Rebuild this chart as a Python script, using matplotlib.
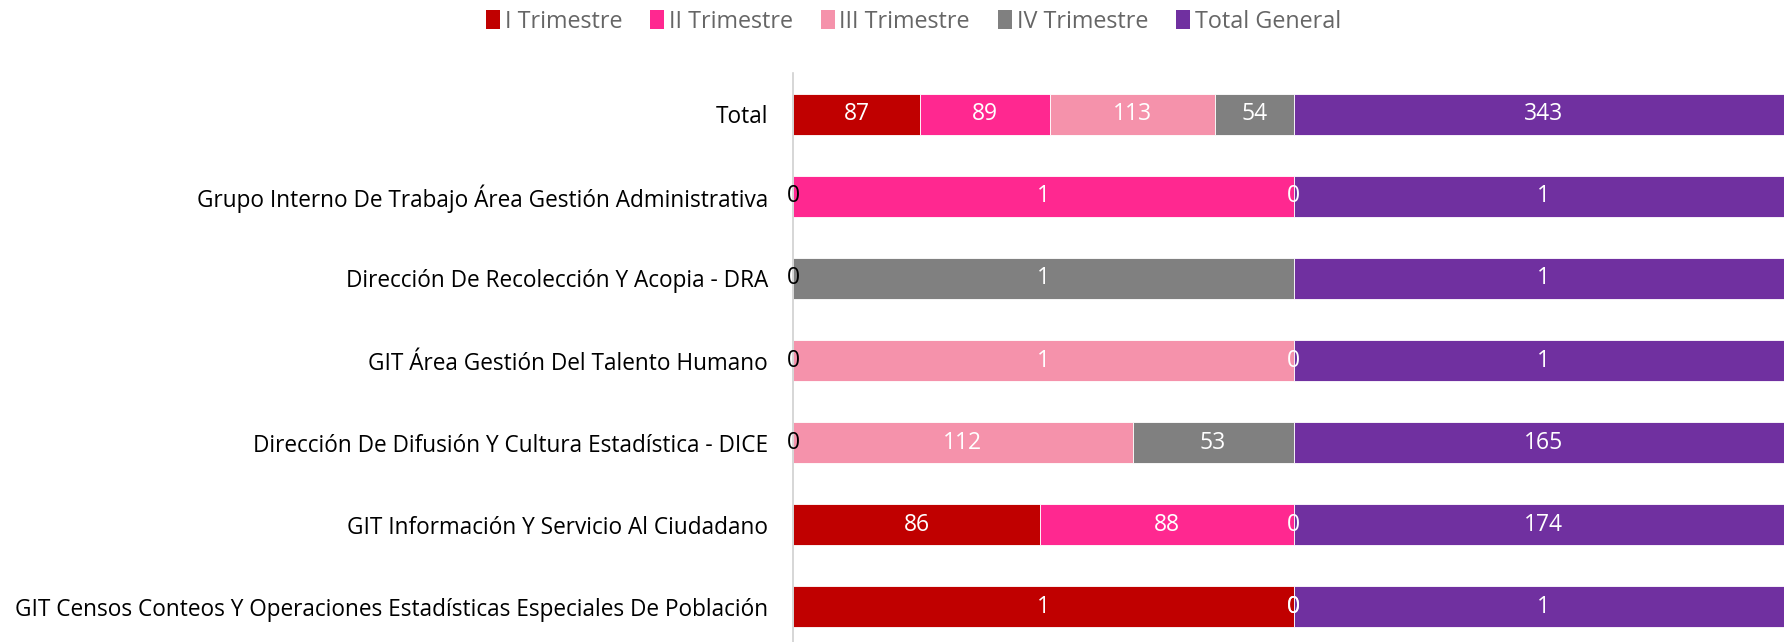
import matplotlib
matplotlib.use("Agg")
import matplotlib.pyplot as plt
from matplotlib.patches import Patch

plt.rcParams['font.family'] = ['Open Sans', 'DejaVu Sans']

categories = [
    "Total",
    "Grupo Interno De Trabajo Área Gestión Administrativa",
    "Dirección De Recolección Y Acopia - DRA",
    "GIT Área Gestión Del Talento Humano",
    "Dirección De Difusión Y Cultura Estadística - DICE",
    "GIT Información Y Servicio Al Ciudadano",
    "GIT Censos Conteos Y Operaciones Estadísticas Especiales De Población",
]
series_names = ["I Trimestre", "II Trimestre", "III Trimestre", "IV Trimestre", "Total General"]
# None = no value for that quarter
trim_1 = [87, 0, 0, 0, 0, 86, 1]
trim_2 = [89, 1, None, None, None, 88, None]
trim_3 = [113, None, None, 1, 112, None, 0]
trim_4 = [54, 0, 1, 0, 53, 0, 0]
total_general = [343, 1, 1, 1, 165, 174, 1]

colors = ["#C00000", "#FF2890", "#F592AB", "#808080", "#7030A0"]

series = [trim_1, trim_2, trim_3, trim_4, total_general]

fig = plt.figure(figsize=(17.84, 6.42), dpi=100)
ax = fig.add_axes([793 / 1784, -6 / 642, (1794 - 793) / 1784, 575 / 642])

n = len(categories)
ypos = list(range(n))
for i in range(n):
    vals = [s[i] if s[i] is not None else 0 for s in series]
    row_sum = sum(vals)
    left = 0.0
    for k, v in enumerate(vals):
        w = v / row_sum * 100
        if series[k][i] is not None:
            ax.barh(i, w, left=left, height=0.5, color=colors[k],
                    edgecolor="white", linewidth=0.6)
            xc = left + w / 2
            tcol = "white"
            if v == 0 and left == 0:
                tcol = "black"
            ax.text(xc, i, str(v), ha="center", va="center", fontsize=16.5,
                    color=tcol, clip_on=False)
        left += w

ax.set_ylim(n - 0.5, -0.5)
ax.set_xlim(0, 100)
ax.set_yticks(ypos)
ax.set_yticklabels(categories, fontsize=16.3, color="#000000")
ax.tick_params(axis="y", length=0, pad=18)
ax.set_xticks([])
for side in ["top", "right", "bottom"]:
    ax.spines[side].set_visible(False)
ax.spines["left"].set_color("#D0D0D0")
ax.spines["left"].set_linewidth(1.2)

handles = [Patch(facecolor=c, edgecolor="none") for c in colors]
fig.legend(handles, series_names, loc="center", bbox_to_anchor=(0.512, 0.966),
           ncol=5, frameon=False, fontsize=16.8, labelcolor="#666666",
           handlelength=0.6, handleheight=0.9, handletextpad=0.2,
           columnspacing=1.2)

fig.savefig("out.png", dpi=100, facecolor="white")
